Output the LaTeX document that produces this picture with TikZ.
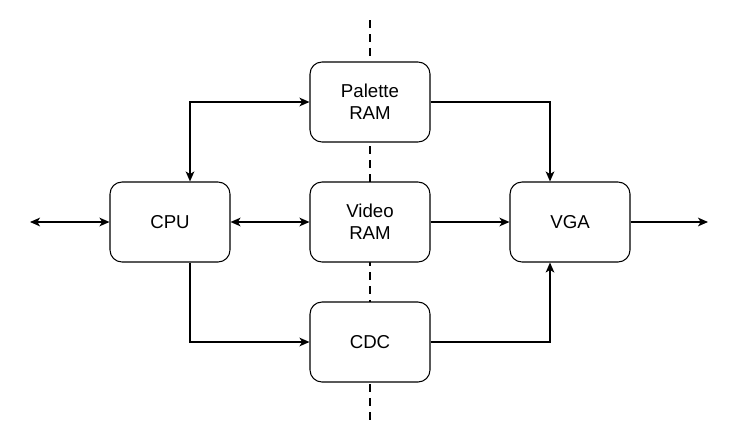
\documentclass[tikz,border=0pt]{standalone}
\usepackage{fontspec}
\setmainfont{Liberation Sans}
\usetikzlibrary{arrows.meta}
\tikzset{
  blk/.style={draw,rounded corners=9pt,minimum width=90pt,minimum height=60pt,fill=white,align=center,font=\fontsize{14}{16.5}\selectfont,line width=0.8pt},
  conn/.style={line width=1.1pt,-{Stealth[length=7.5pt,width=6.5pt,inset=2pt]}},
  bconn/.style={line width=1.1pt,{Stealth[length=7.5pt,width=6.5pt,inset=2pt]}-{Stealth[length=7.5pt,width=6.5pt,inset=2pt]}}
}
\begin{document}
\begin{tikzpicture}[x=0.75pt,y=-0.75pt]
\useasboundingbox(0,0)rectangle(738,443);
%split line
\draw[dashed,line width=0.9pt,dash pattern=on 6pt off 4.5pt](370,20)--(370,423);
%blocks
\node[blk](cpu)at(170,222){CPU};
\node[blk](pal)at(370,102){Palette\\RAM};
\node[blk](vram)at(370,222){Video\\RAM};
\node[blk](cdc)at(370,342){CDC};
\node[blk](vga)at(570,222){VGA};
\coordinate(bus)at(30,222);
\coordinate(out)at(708,222);
%arrows
\draw[bconn](bus)--(cpu);
\draw[bconn](cpu)--(vram);
\draw[conn](vram)--(vga);
\draw[conn](vga)--(out);
\draw[bconn]([xshift=15pt]cpu.north)|-(pal.west);
\draw[conn](pal.east)-|([xshift=-15pt]vga.north);
\draw[conn]([xshift=15pt]cpu.south)|-(cdc.west);
\draw[conn](cdc.east)-|([xshift=-15pt]vga.south);
\end{tikzpicture}
\end{document}
